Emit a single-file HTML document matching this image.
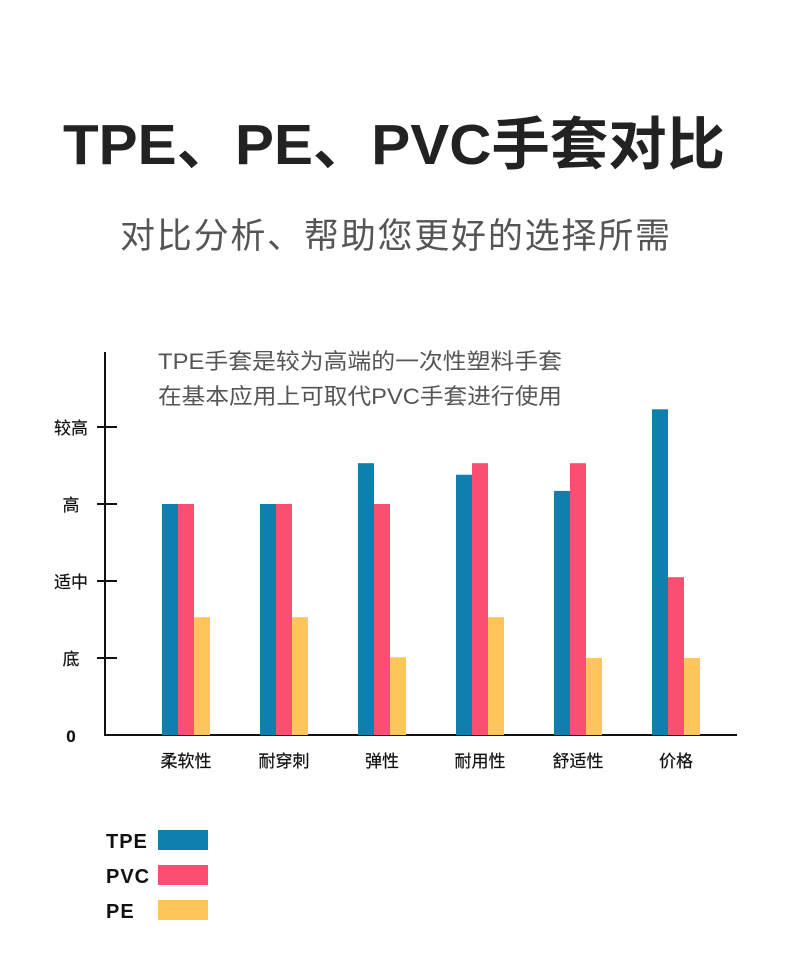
<!DOCTYPE html>
<html><head><meta charset="utf-8"><style>
body{margin:0;width:790px;height:961px;background:#fff;overflow:hidden;font-family:"Liberation Sans","Noto Sans CJK SC",sans-serif}
svg text{font-family:"Liberation Sans","Noto Sans CJK SC",sans-serif}
</style></head><body>
<svg id="c" width="790" height="961">
<text x="394" y="164" text-anchor="middle" font-size="57" font-weight="bold" fill="#222" textLength="662" lengthAdjust="spacingAndGlyphs">TPE、PE、PVC手套对比</text>
<text x="395" y="248" text-anchor="middle" font-size="35" fill="#555" textLength="550" lengthAdjust="spacing">对比分析、帮助您更好的选择所需</text>
<text x="158" y="369" font-size="22" fill="#555" textLength="404" lengthAdjust="spacingAndGlyphs">TPE手套是较为高端的一次性塑料手套</text>
<text x="158" y="404" font-size="22" fill="#555" textLength="404" lengthAdjust="spacingAndGlyphs">在基本应用上可取代PVC手套进行使用</text>
<g id="plot"></g>
</svg>
<script>
const categories=["柔软性","耐穿刺","弹性","耐用性","舒适性","价格"];
const tpe=[3,3,3.53,3.38,3.17,4.23];
const pvc=[3,3,3,3.53,3.53,2.05];
const pe=[1.53,1.53,1.01,1.53,1,1];
const tickLabels=["0","底","适中","高","较高"];
const seriesNames=["TPE","PVC","PE"];
const colors=["#0f7fae","#fb4f72","#fec65a"];
const NS="http://www.w3.org/2000/svg";
const g=document.getElementById('plot');
const y0=735,unit=77,ax=105;
const yS=v=>y0-v*unit;
const xS=i=>186+i*98;
function mk(t,a){const e=document.createElementNS(NS,t);for(const k in a)e.setAttribute(k,a[k]);g.appendChild(e);return e;}
let e=mk('line',{x1:ax,y1:352,x2:ax,y2:y0+1,stroke:'#111','stroke-width':2});


e=mk('line',{x1:ax-1,y1:y0,x2:737,y2:y0,stroke:'#111','stroke-width':2});


tickLabels.forEach((t,i)=>{
  const y=yS(i);
  if(i>0){e=mk('line',{x1:97,y1:y,x2:117,y2:y,stroke:'#111','stroke-width':2});
  
  }
  e=mk('text',{x:71,y:y+7,'text-anchor':'middle','font-size':17,fill:'#111','font-weight':i==0?'bold':'normal',stroke:'#111','stroke-width':0.2});e.textContent=t;
  
  
});
const series=[tpe,pvc,pe];
categories.forEach((c,i)=>{
  series.forEach((s,j)=>{
    const x=xS(i)-24+j*16;
    e=mk('rect',{x:x,y:yS(s[i]),width:16,height:s[i]*unit,fill:colors[j]});
    
    
  });
  e=mk('text',{x:xS(i),y:767,'text-anchor':'middle','font-size':17,fill:'#111',stroke:'#111','stroke-width':0.2});e.textContent=c;
  
  
});
seriesNames.forEach((n,j)=>{
  const y=830+j*35;
  e=mk('text',{x:106,y:y+18,'font-size':20,'font-weight':'bold',fill:'#111','letter-spacing':1});e.textContent=n;
  
  
  e=mk('rect',{x:158,y:y,width:50,height:20,fill:colors[j]});
  
  
});
</script>
</body></html>
